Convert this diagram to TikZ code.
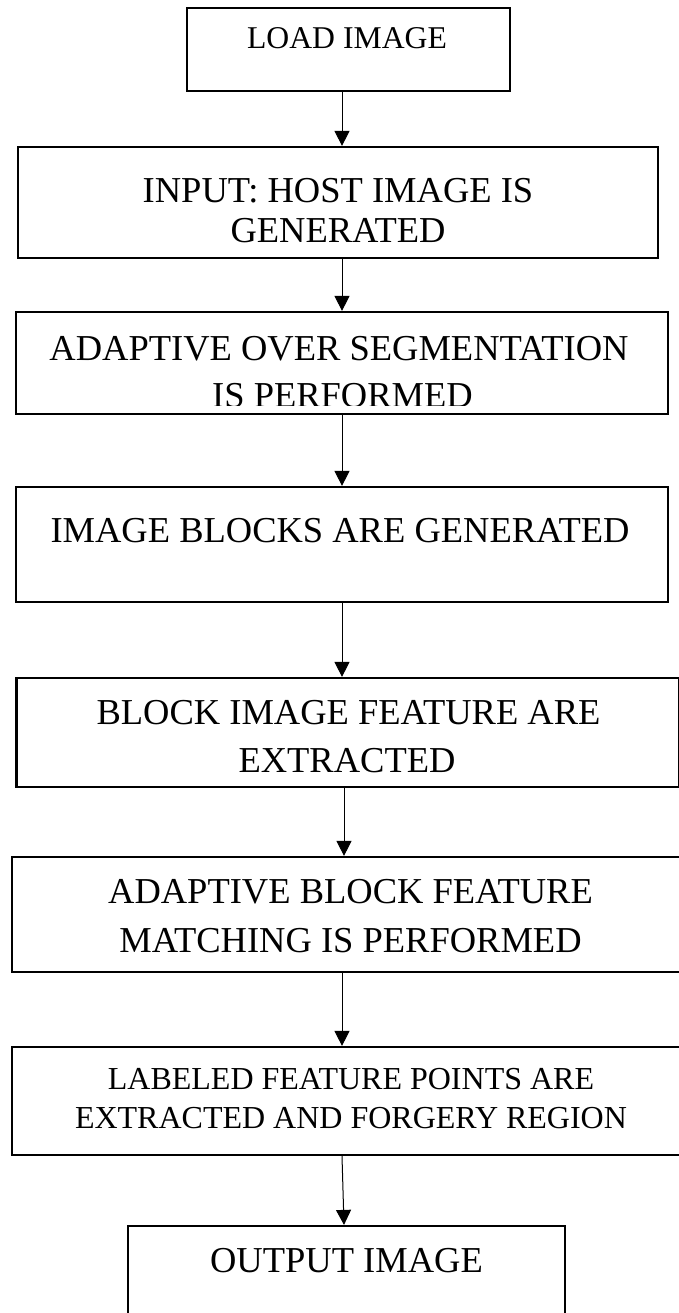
\documentclass[tikz,border=0pt]{standalone}
\usepackage{fontspec}
\setmainfont{Liberation Serif}
\usetikzlibrary{arrows.meta}
\begin{document}
\begin{tikzpicture}[x=1pt,y=-1pt,
  box/.style={draw, line width=2.2pt, rectangle, inner sep=0pt},
  conn/.style={line width=1pt, -{Triangle[length=15pt,width=15pt]}},
  bigtxt/.style={font=\fontsize{36.5}{44}\selectfont, inner sep=0pt, anchor=base},
  midtxt/.style={font=\fontsize{32}{38}\selectfont, inner sep=0pt, anchor=base},
  toptxt/.style={font=\fontsize{31.7}{38}\selectfont, inner sep=0pt, anchor=base}]
\clip (0,0) rectangle (679,1313);
\fill[white] (0,0) rectangle (679,1313);
% boxes
\node[box, minimum width=323pt, minimum height=83pt] (b1) at (348.5,49.5) {};
\node[box, minimum width=640pt, minimum height=111pt] (b2) at (338,202.5) {};
\node[box, minimum width=652pt, minimum height=102pt] (b3) at (342,363) {};
\node[box, minimum width=652pt, minimum height=115pt] (b4) at (342,544.5) {};
\node[box, minimum width=663pt, minimum height=109pt] (b5) at (348,732.5) {};
\node[box, minimum width=678pt, minimum height=115pt] (b6) at (351,914.5) {};
\node[box, minimum width=678pt, minimum height=108pt] (b7) at (351,1101) {};
\node[box, minimum width=437pt, minimum height=104pt] (b8) at (346.5,1278) {};
% texts
\node[toptxt] (t1) at (347,49) {LOAD IMAGE};
\node[bigtxt] (t2a) at (338,203) {INPUT: HOST IMAGE IS};
\node[bigtxt] (t2b) at (338,243) {GENERATED};
\begin{scope}
\clip (16,312) rectangle (668,405);
\node[bigtxt] (t3a) at (339,360) {ADAPTIVE OVER SEGMENTATION};
\node[bigtxt] (t3b) at (342.5,407) {IS PERFORMED};
\end{scope}
\node[bigtxt] (t4) at (340,542) {IMAGE BLOCKS ARE GENERATED};
\node[bigtxt] (t5a) at (348.5,724) {BLOCK IMAGE FEATURE ARE};
\node[bigtxt] (t5b) at (347,772) {EXTRACTED};
\node[bigtxt] (t6a) at (350.5,903) {ADAPTIVE BLOCK FEATURE};
\node[bigtxt] (t6b) at (350.5,952) {MATCHING IS PERFORMED};
\node[midtxt] (t7a) at (351,1089) {LABELED FEATURE POINTS ARE};
\node[midtxt] (t7b) at (351,1128) {EXTRACTED AND FORGERY REGION};
\node[bigtxt] (t8) at (346.5,1272) {OUTPUT IMAGE};
% connectors
\draw[conn] ([xshift=-6.5pt]b1.south) -- ([xshift=4pt]b2.north);
\draw[conn] ([xshift=4pt]b2.south) -- (b3.north);
\draw[conn] (b3.south) -- (b4.north);
\draw[conn] (b4.south) -- ([xshift=-6pt]b5.north);
\draw[conn] ([xshift=-4pt]b5.south) -- ([xshift=-7pt]b6.north);
\draw[conn] ([xshift=-9pt]b6.south) -- ([xshift=-9pt]b7.north);
\draw[conn] ([xshift=-9pt]b7.south) -- ([xshift=-2.5pt]b8.north);
\end{tikzpicture}
\end{document}
